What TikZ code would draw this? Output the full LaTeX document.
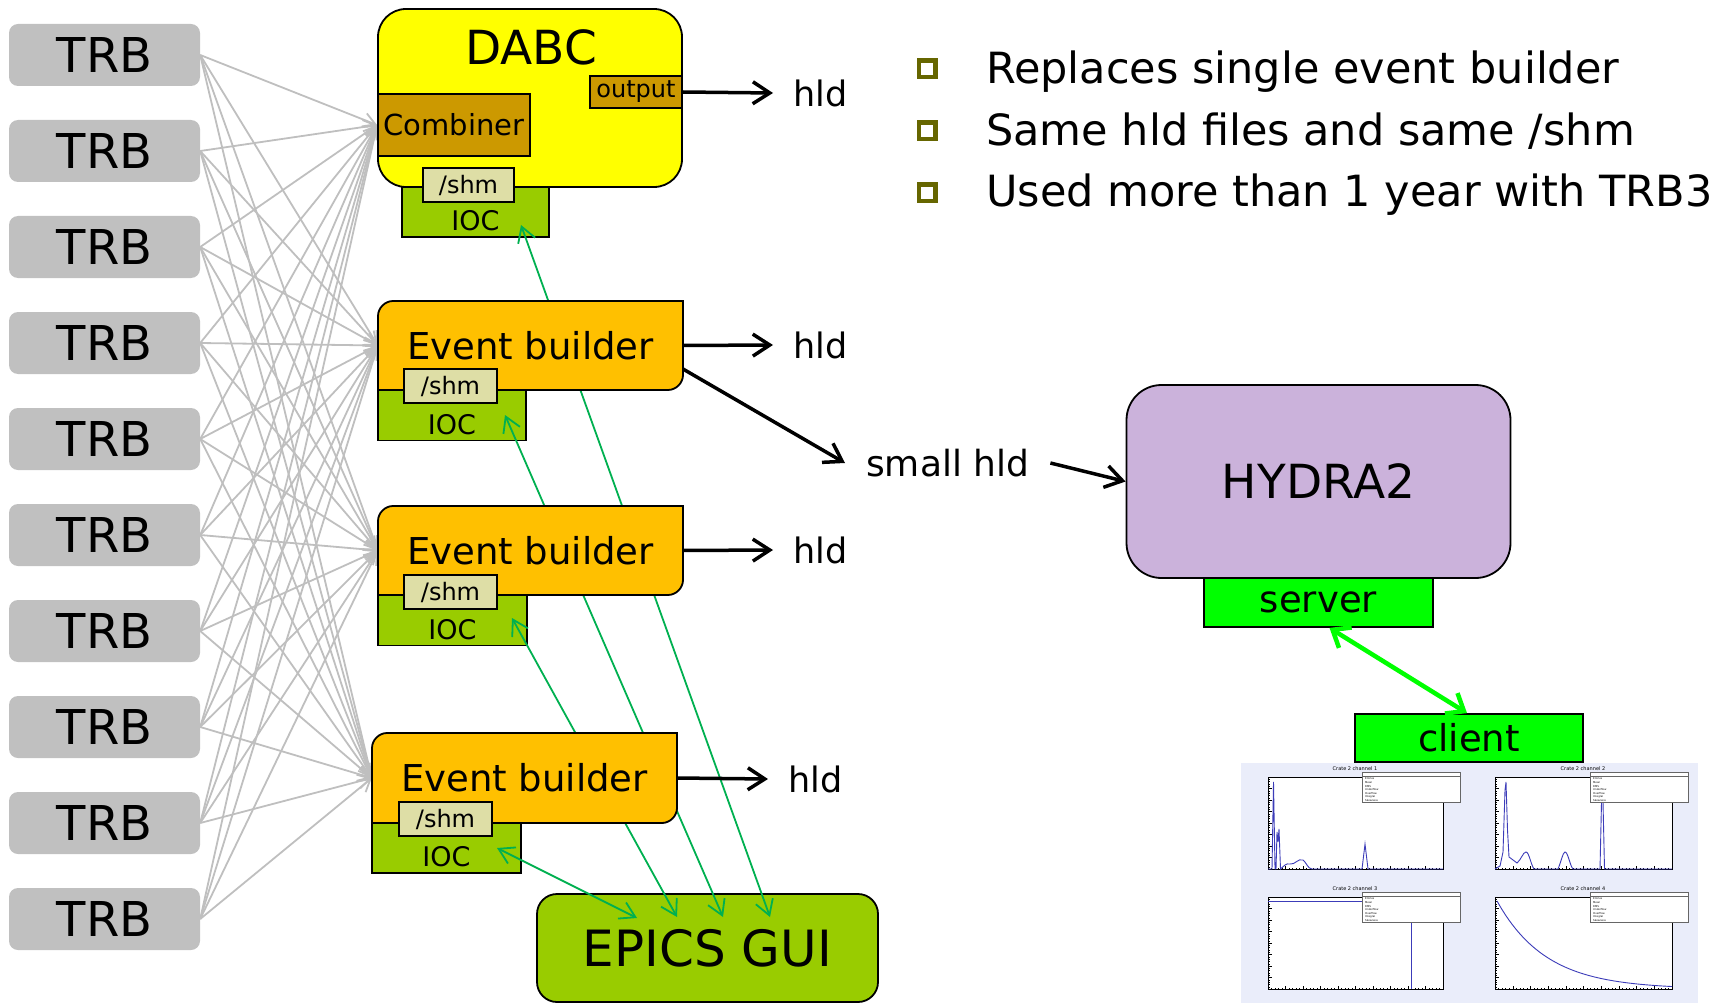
\documentclass[tikz,border=0pt]{standalone}
\usepackage{fontspec}
\setmainfont{DejaVu Sans}
\usetikzlibrary{arrows.meta}
\definecolor{trbgray}{RGB}{192,192,192}
\definecolor{fangray}{RGB}{191,191,191}
\definecolor{iocgreen}{RGB}{153,204,0}
\definecolor{shmkhaki}{RGB}{222,222,166}
\definecolor{ebor}{RGB}{255,192,0}
\definecolor{dabcyellow}{RGB}{255,255,0}
\definecolor{combbrown}{RGB}{204,153,0}
\definecolor{hydralil}{RGB}{203,178,219}
\definecolor{srvgreen}{RGB}{0,255,0}
\definecolor{epicsgreen}{RGB}{0,176,80}
\definecolor{bulletolive}{RGB}{102,102,0}
\definecolor{shotbg}{RGB}{234,237,250}
\definecolor{histblue}{RGB}{60,60,185}
\newcommand\fsz[1]{\fontsize{#1}{#1}\selectfont}
\pgfdeclarelayer{fanlayer}
\pgfdeclarelayer{lowlayer}
\pgfdeclarelayer{linelayer}
\pgfsetlayers{fanlayer,lowlayer,linelayer,main}
\tikzset{
 trbbox/.style={fill=trbgray, rounded corners=9pt, minimum width=191pt, minimum height=62pt, inner sep=0pt, font=\fsz{48}},
 fanline/.style={draw=fangray, line width=1.8pt, -{Straight Barb[length=12pt,width=14pt]}},
 outl/.style={draw=black, line width=1.8pt},
 dabcbox/.style={outl, fill=dabcyellow, rounded corners=28pt, minimum width=304pt, minimum height=178pt, inner sep=0pt},
 brownbox/.style={outl, fill=combbrown, inner sep=0pt},
 shmbox/.style={outl, fill=shmkhaki, minimum width=92pt, minimum height=34pt, inner sep=0pt, font=\fsz{24}},
 iocbox/.style={outl, fill=iocgreen, minimum height=50pt, inner sep=0pt, label={[font=\fsz{27}, yshift=-9pt]center:IOC}},
 ebshape/.style={outl, fill=ebor},
 ebtext/.style={minimum width=305pt, minimum height=89pt, inner sep=0pt, font=\fsz{37}},
 blkarrow/.style={line width=3.5pt, -{Straight Barb[length=17pt,width=22pt]}},
 hldtext/.style={anchor=west, inner xsep=20pt, inner ysep=0pt, font=\fsz{35}},
 epicsline/.style={draw=epicsgreen, line width=1.8pt, {Straight Barb[length=15pt,width=18pt]}-{Straight Barb[length=15pt,width=18pt]}},
 bulletsq/.style={draw=bulletolive, line width=4.5pt, minimum size=16.5pt, inner sep=0pt},
 bullettext/.style={anchor=base west, inner sep=0pt, font=\fsz{43}},
 srvbox/.style={outl, fill=srvgreen, inner sep=0pt, font=\fsz{37}},
 srvarrow/.style={draw=srvgreen, line width=4.5pt, {Straight Barb[length=15pt,width=24pt]}-{Straight Barb[length=15pt,width=24pt]}},
 histline/.style={draw=histblue, line width=0.9pt},
 histtick/.style={draw=black, line width=0.4pt},
 statstext/.style={font=\fsz{2.6}, inner sep=0pt, anchor=west},
}
\newcommand\ebpath[4]{%
 \filldraw[ebshape] ({#1},{#4}) -- ({#1},{#2+15}) .. controls ({#1},{#2+7}) and ({#1+7},{#2}) .. ({#1+15},{#2}) -- ({#3},{#2}) -- ({#3},{#4-15}) .. controls ({#3},{#4-7}) and ({#3-7},{#4}) .. ({#3-15},{#4}) -- cycle;}
\newcommand\histframe[4]{%
 \fill[white] (#1,#2) rectangle (#3,#4);
 \foreach \k in {0,...,50} {\draw[histtick] ({#1+\k*(#3-#1)/50},#4) -- ++(0,-1.5);}
 \foreach \k in {0,...,10} {\draw[histtick] ({#1+\k*(#3-#1)/10},#4) -- ++(0,-3.5);}
 \foreach \k in {0,...,40} {\draw[histtick] (#1,{#4-\k*(#4-#2)/40}) -- ++(1.5,0);}
 \foreach \k in {0,...,8} {\draw[histtick] (#1,{#4-\k*(#4-#2)/8}) -- ++(3.5,0);}
 \draw[line width=0.6pt] (#1,#2) rectangle (#3,#4);}
\newcommand\statsbox[2]{%
 \fill[white] (#1,#2) rectangle ++(98,30);
 \draw[line width=0.5pt, black!60] (#1,#2) rectangle ++(98,30);
 \draw[line width=0.3pt, black!60] (#1,{#2+4}) -- ++(98,0);
 \foreach \r [count=\c] in {Entries,Mean,RMS,Underflow,Overflow,Integral,Skewness}
  {\node[statstext] at ({#1+3},{#2+3.4+\c*3.6}) {\r};}}
\begin{document}
\begin{tikzpicture}[x=1pt,y=-1pt]
\useasboundingbox (0,0) rectangle (1727,1003);
% TRB column
\foreach \i in {0,...,9} {\node[trbbox] (trb\i) at (104.5,{55+96*\i}) {TRB};}
% DABC
\node[dabcbox] (dabc) at (530,98) {};
\node[font=\fsz{47}, inner sep=0pt] (dabctxt) at (531,47) {DABC};
\node[brownbox, minimum width=152pt, minimum height=62pt, font=\fsz{29}] (comb) at (454,125) {Combiner};
\node[brownbox, minimum width=92pt, minimum height=32pt, font=\fsz{24}] (out) at (636,92) {output};
% Event builders
\ebpath{378}{301}{683}{390}
\node[ebtext] (eb1) at (530.5,345.5) {Event builder};
\ebpath{378}{506}{683}{595}
\node[ebtext] (eb2) at (530.5,550.5) {Event builder};
\ebpath{372}{733}{677}{823}
\node[ebtext] (eb3) at (524.5,778) {Event builder};
% IOC boxes and EPICS GUI (lower layer)
\begin{pgfonlayer}{lowlayer}
\node[iocbox, minimum width=147pt] (ioc0) at (475.5,212) {};
\node[iocbox, minimum width=148pt] (ioc1) at (452,415.5) {};
\node[iocbox, minimum width=149pt] (ioc2) at (452.5,620.5) {};
\node[iocbox, minimum width=149pt] (ioc3) at (446.5,848) {};
\node[outl, fill=iocgreen, rounded corners=20pt, minimum width=341pt, minimum height=108pt, inner sep=0pt, font=\fsz{50}] (epics) at (707.5,948) {\raisebox{-4pt}{EPICS GUI}};
\end{pgfonlayer}
% shm boxes
\node[shmbox, minimum width=91pt] (shm0) at (468.5,185) {/shm};
\node[shmbox, minimum width=93pt] (shm1) at (450.5,386) {/shm};
\node[shmbox, minimum width=93pt] (shm2) at (450.5,592) {/shm};
\node[shmbox, minimum width=93pt] (shm3) at (445.5,819) {/shm};
% fan-in connections
\begin{pgfonlayer}{fanlayer}
\foreach \i in {0,...,9} {\foreach \t in {comb,eb1,eb2,eb3} {\draw[fanline] (trb\i.east) -- (\t.west);}}
\end{pgfonlayer}
% EPICS connections
\coordinate (t0) at (521,225);
\coordinate (t1) at (505,415);
\coordinate (t2) at (512,618);
\coordinate (t3) at (497,848);
\coordinate (e0) at (637,918);
\coordinate (e1) at (677,917);
\coordinate (e2) at (723,917);
\coordinate (e3) at (770,917);
\begin{pgfonlayer}{linelayer}
\draw[epicsline] (t0) -- (e3);
\draw[epicsline] (t1) -- (e2);
\draw[epicsline] (t2) -- (e1);
\draw[epicsline] (t3) -- (e0);
\end{pgfonlayer}
% hld outputs
\node[hldtext] (hld0) at (773,93) {hld};
\node[hldtext] (hld1) at (773,345) {hld};
\node[hldtext] (hld2) at (773,550) {hld};
\node[hldtext] (hld3) at (768,779) {hld};
\draw[blkarrow] (out.east) -- (hld0.west);
\draw[blkarrow] (eb1.east) -- (hld1.west);
\draw[blkarrow] (eb2.east) -- (hld2.west);
\draw[blkarrow] (eb3.east) -- (hld3.west);
% small hld to HYDRA2
\node[outl, fill=hydralil, rounded corners=35pt, minimum width=384pt, minimum height=193pt, inner sep=0pt, font=\fsz{47}] (hydra) at (1318.5,481.5) {HYDRA2};
\node[hldtext, inner xsep=21pt, font=\fsz{36}] (smallhld) at (845,463) {small hld};
\coordinate (eb1out) at (683,369);
\draw[blkarrow] (eb1out) -- (smallhld.west);
\draw[blkarrow] (smallhld.east) -- (hydra.west);
\node[srvbox, minimum width=229pt, minimum height=49pt] (server) at (1318.5,602.5) {server};
\node[srvbox, minimum width=228pt, minimum height=48pt] (client) at (1469,738) {client};
\draw[srvarrow] ([xshift=11pt]server.south) -- ([xshift=-2pt]client.north);
% bullets
\node[bulletsq] (b1) at (927,69) {};
\node[bulletsq] (b2) at (927,131) {};
\node[bulletsq] (b3) at (927,193) {};
\node[bullettext] (l1) at (986,84) {Replaces single event builder};
\node[bullettext] (l2) at (986,146) {Same hld files and same /shm};
\node[bullettext] (l3) at (986,207) {Used more than 1 year with TRB3};
% screenshot of histograms
\fill[shotbg] (1241,763) rectangle (1698,1003);
\histframe{1268}{777}{1443}{869}
\histframe{1495}{777}{1672}{869}
\histframe{1268}{897}{1443}{989}
\histframe{1495}{897}{1672}{989}
\draw[histline] (1268,869) -- (1272,869) -- (1273.5,782) -- (1275,869) -- (1276,869) -- (1277,832) -- (1278,842) -- (1279,829) -- (1280.5,869)
  .. controls (1284,866) and (1286,863) .. (1290,864) .. controls (1295,865) and (1298,858) .. (1303,860) .. controls (1306,862) and (1308,869) .. (1312,869)
  -- (1362,869) -- (1365,844) -- (1368,869) -- (1443,869);
\draw[histline] (1495,869) -- (1500,866) -- (1503,852) -- (1505,790) -- (1506,782) -- (1507.5,830) -- (1509,857) -- (1517,863)
  .. controls (1521,860) and (1523,852) .. (1526,852) .. controls (1529,852) and (1531,865) .. (1534,869)
  -- (1558,869) .. controls (1561,862) and (1563,852) .. (1565,852) .. controls (1568,852) and (1570,866) .. (1573,869)
  -- (1600,869) -- (1601.5,802) -- (1603,802) -- (1604.5,869) -- (1672,869);
\draw[histline] (1268,901) -- (1362,901);
\draw[histline] (1411,922) -- (1411,989);
\draw[histline] plot[domain=1497:1672, samples=60] (\x, {989-88*exp(-(\x-1497)/49)});
\statsbox{1362}{772}
\statsbox{1590}{772}
\statsbox{1362}{892}
\statsbox{1590}{892}
\node[font=\fsz{5}, inner sep=0pt] (title1) at (1355,769) {Crate 2 channel 1};
\node[font=\fsz{5}, inner sep=0pt] (title2) at (1583,769) {Crate 2 channel 2};
\node[font=\fsz{5}, inner sep=0pt] (title3) at (1355,889) {Crate 2 channel 3};
\node[font=\fsz{5}, inner sep=0pt] (title4) at (1583,889) {Crate 2 channel 4};
\end{tikzpicture}
\end{document}
